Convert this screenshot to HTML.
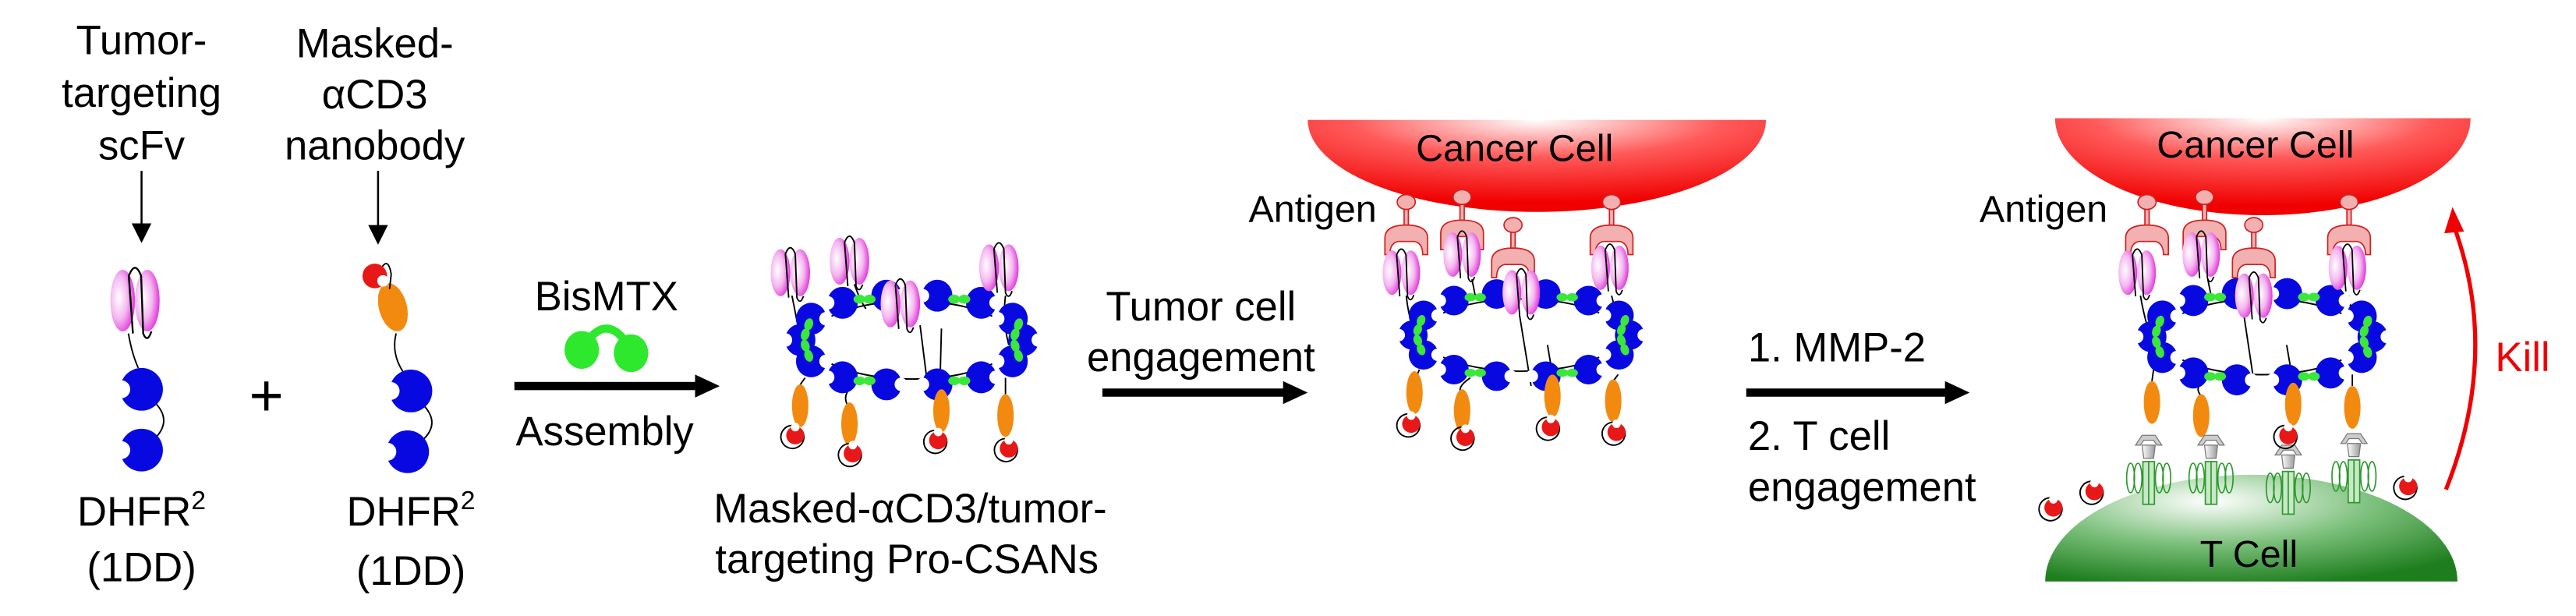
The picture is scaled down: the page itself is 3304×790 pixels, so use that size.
<!DOCTYPE html>
<html><head><meta charset="utf-8"><style>
html,body{margin:0;padding:0;background:#fff;}
svg{display:block;}
text{font-family:"Liberation Sans",Arial,sans-serif;fill:#000;}
</style></head><body>
<svg width="3304" height="790" viewBox="0 0 1568 375" xmlns="http://www.w3.org/2000/svg">
<defs>
<radialGradient id="pink" cx="0.35" cy="0.45" r="0.7"><stop offset="0" stop-color="#fff"/><stop offset="0.5" stop-color="#f4b8f0"/><stop offset="1" stop-color="#e020d8"/></radialGradient>
<radialGradient id="cg" cx="0.5" cy="0" r="0.9"><stop offset="0" stop-color="#fff"/><stop offset="0.45" stop-color="#ff5a5a"/><stop offset="1" stop-color="#f00000"/></radialGradient>
<radialGradient id="tg" cx="0.4" cy="0.25" r="0.8"><stop offset="0" stop-color="#fff"/><stop offset="0.5" stop-color="#7cc07c"/><stop offset="1" stop-color="#1e7e1e"/></radialGradient>
<linearGradient id="sil" x1="0" x2="1"><stop offset="0" stop-color="#fff"/><stop offset="1" stop-color="#999"/></linearGradient>
<g id="pm"><circle r="10" fill="#0808e0"/><circle cx="-9.5" r="4.2" fill="#fff"/></g>
<g id="sc"><ellipse cx="-6" cy="0" rx="6" ry="15" fill="url(#pink)"/><ellipse cx="6" cy="0" rx="6" ry="15" fill="url(#pink)"/><path d="M-1 16 L-3 -12 Q0 -20 3 -12 L4 16 Q6 21 8 15" fill="none" stroke="#000" stroke-width="0.9"/></g>
<g id="or"><ellipse rx="5" ry="13" fill="#f38a10"/></g>
<g id="rm"><path d="M4 -3 A7 7 0 1 1 -2 -6" fill="none" stroke="#000" stroke-width="0.9"/><circle r="5.5" fill="#e81818"/><circle cx="0" cy="-5" r="2.6" fill="#fff"/></g>
<g id="gl"><ellipse cx="-3" rx="3.5" ry="2.5" fill="#3ae83a"/><ellipse cx="3" rx="3.5" ry="2.5" fill="#3ae83a"/><rect x="-3" y="-0.8" width="6" height="1.6" fill="#3ae83a"/></g>
<g id="ring">
<ellipse rx="60" ry="22" fill="none" stroke="#000" stroke-width="0.9"/>
<use href="#pm" transform="translate(66,0) rotate(180) scale(0.9)"/>
<use href="#pm" transform="translate(59.5,12) scale(0.9)"/>
<use href="#pm" transform="translate(41,21) rotate(180) scale(0.9)"/>
<use href="#pm" transform="translate(15,25) scale(0.9)"/>
<use href="#pm" transform="translate(-15,25) rotate(180) scale(0.9)"/>
<use href="#pm" transform="translate(-41,21) scale(0.9)"/>
<use href="#pm" transform="translate(-59.5,12) rotate(180) scale(0.9)"/>
<use href="#pm" transform="translate(-66,0) scale(0.9)"/>
<use href="#pm" transform="translate(-59.5,-12) rotate(180) scale(0.9)"/>
<use href="#pm" transform="translate(-41,-21) scale(0.9)"/>
<use href="#pm" transform="translate(-15,-25) rotate(180) scale(0.9)"/>
<use href="#pm" transform="translate(15,-25) scale(0.9)"/>
<use href="#pm" transform="translate(41,-21) rotate(180) scale(0.9)"/>
<use href="#pm" transform="translate(59.5,-12) scale(0.9)"/>
<use href="#gl" transform="translate(62,6) rotate(70)"/>
<use href="#gl" transform="translate(28,23)"/>
<use href="#gl" transform="translate(-28,23)"/>
<use href="#gl" transform="translate(-62,6) rotate(70)"/>
<use href="#gl" transform="translate(-62,-6) rotate(-70)"/>
<use href="#gl" transform="translate(-28,-23)"/>
<use href="#gl" transform="translate(28,-23)"/>
<use href="#gl" transform="translate(62,-6) rotate(-70)"/>
</g>
<g id="cup"><rect x="-1.3" y="-18" width="2.6" height="14" fill="#f2b0b0" stroke="#d02020" stroke-width="0.8"/><ellipse cx="0" cy="-20" rx="5.5" ry="4.5" fill="#f2b0b0" stroke="#d02020" stroke-width="0.8"/><path d="M-13 12 L-13 2 Q-13 -6 0 -6 Q13 -6 13 2 L13 12 L10 12 Q10 5 5 4 L-5 4 Q-10 5 -10 12 Z" fill="#f2b0b0" stroke="#d02020" stroke-width="0.8"/></g>
<g id="tcr"><path d="M-8 -10 L-4 -16 L4 -16 L8 -10 L5 -10 L3 -13 L-3 -13 L-5 -10 Z" fill="#ccc" stroke="#777" stroke-width="0.6"/><path d="M-4 -10 L4 -10 L3 -2 L-3 -2 Z" fill="url(#sil)" stroke="#777" stroke-width="0.6"/>
<g fill="none" stroke="#2a9a2a" stroke-width="0.8"><ellipse cx="-11" cy="10" rx="2.4" ry="9"/><ellipse cx="-6.5" cy="10" rx="2.4" ry="9"/><ellipse cx="6.5" cy="10" rx="2.4" ry="9"/><ellipse cx="11" cy="10" rx="2.4" ry="9"/><rect x="-3.5" y="0" width="7" height="26" fill="#c8e8c8"/><line x1="0" y1="0" x2="0" y2="26"/></g></g>
</defs>

<!-- Left monomer -->
<text x="86" y="33" font-size="25" text-anchor="middle">Tumor-</text>
<text x="86" y="65" font-size="25" text-anchor="middle">targeting</text>
<text x="86" y="97" font-size="25" text-anchor="middle">scFv</text>
<line x1="86" y1="104" x2="86" y2="138" stroke="#000" stroke-width="1.2"/>
<polygon points="80,136 92,136 86,148" fill="#000"/>
<use href="#sc" transform="translate(82,183) scale(1.25)"/>
<path d="M78 203 Q80 215 84 224" fill="none" stroke="#000" stroke-width="0.9"/>
<path d="M95 246 Q104 256 95 266" fill="none" stroke="#000" stroke-width="0.9"/>
<use href="#pm" transform="translate(86,237) scale(1.3)"/>
<use href="#pm" transform="translate(86,274) scale(1.3)"/>
<text x="86" y="320" font-size="25" text-anchor="middle">DHFR<tspan font-size="16" dy="-10">2</tspan></text>
<text x="86" y="354" font-size="25" text-anchor="middle">(1DD)</text>

<text x="162" y="253" font-size="36" text-anchor="middle">+</text>

<!-- Masked monomer -->
<text x="228" y="35" font-size="25" text-anchor="middle">Masked-</text>
<text x="228" y="66" font-size="25" text-anchor="middle">αCD3</text>
<text x="228" y="97" font-size="25" text-anchor="middle">nanobody</text>
<line x1="230" y1="104" x2="230" y2="139" stroke="#000" stroke-width="1.2"/>
<polygon points="224,137 236,137 230,149" fill="#000"/>
<path d="M241 203 Q238 215 245 226" fill="none" stroke="#000" stroke-width="0.9"/>
<path d="M258 247 Q268 258 257 268" fill="none" stroke="#000" stroke-width="0.9"/>
<ellipse cx="239" cy="187" rx="8.5" ry="15" fill="#f38a10" transform="rotate(-15 239 187)"/>
<path d="M231 165 Q236 155 238 167 L237 176" fill="none" stroke="#000" stroke-width="0.9"/>
<circle cx="228" cy="168" r="7.5" fill="#e81818"/><circle cx="233" cy="171" r="3.5" fill="#fff"/>
<use href="#pm" transform="translate(250,238) scale(1.3)"/>
<use href="#pm" transform="translate(248,275) scale(1.3)"/>
<text x="250" y="320" font-size="25" text-anchor="middle">DHFR<tspan font-size="16" dy="-10">2</tspan></text>
<text x="250" y="356" font-size="25" text-anchor="middle">(1DD)</text>

<!-- Assembly arrow -->
<text x="369" y="189" font-size="25" text-anchor="middle">BisMTX</text>
<path d="M358 207 Q369 193 380 207" fill="none" stroke="#2ee82e" stroke-width="5"/>
<ellipse cx="354" cy="213" rx="10.5" ry="11.5" fill="#2ee82e"/>
<ellipse cx="384" cy="215" rx="10.5" ry="11.5" fill="#2ee82e"/>
<rect x="313" y="232.5" width="112" height="5" fill="#000"/>
<polygon points="423,228 438,235 423,242" fill="#000"/>
<text x="368" y="271" font-size="25" text-anchor="middle">Assembly</text>

<!-- Cluster 1 -->
<g stroke="#000" stroke-width="0.9" fill="none">
<path d="M482 180 Q486 200 490 222"/><path d="M520 173 Q523 182 527 188"/><path d="M560 198 L564 230"/><path d="M612 180 Q610 195 614 210"/>
<path d="M490 230 Q484 238 487 236"/><path d="M520 234 Q512 240 516 247"/><path d="M573 200 L572 238"/><path d="M612 230 L612 240"/>
</g>
<use href="#ring" transform="translate(555,207) scale(1.03,1.08)"/>
<use href="#sc" transform="translate(481,166) scale(1,0.95)"/>
<use href="#sc" transform="translate(517,159) scale(1,0.95)"/>
<use href="#sc" transform="translate(548,185) scale(1,0.95)"/>
<use href="#sc" transform="translate(608,163) scale(1,0.95)"/>
<use href="#or" transform="translate(487,247)"/><use href="#or" transform="translate(517,258)"/><use href="#or" transform="translate(573,250)"/><use href="#or" transform="translate(612,253)"/>
<use href="#rm" transform="translate(484,265)"/><use href="#rm" transform="translate(519,276)"/><use href="#rm" transform="translate(571,268)"/><use href="#rm" transform="translate(614,273)"/>
<text x="554" y="318" font-size="25" text-anchor="middle">Masked-αCD3/tumor-</text>
<text x="552" y="349" font-size="25" text-anchor="middle">targeting Pro-CSANs</text>

<!-- Arrow 2 -->
<text x="731" y="195" font-size="25" text-anchor="middle">Tumor cell</text>
<text x="731" y="226" font-size="25" text-anchor="middle">engagement</text>
<rect x="671" y="236.5" width="112" height="5" fill="#000"/>
<polygon points="781,232 796,239 781,246" fill="#000"/>

<!-- Scene 2 -->
<path d="M796 73 L1075 73 A139.5 56 0 0 1 796 73 Z" fill="url(#cg)"/>
<text x="922" y="98" font-size="23" text-anchor="middle">Cancer Cell</text>
<text x="799" y="135" font-size="23" text-anchor="middle">Antigen</text>
<g stroke="#000" stroke-width="0.9" fill="none">
<path d="M856 180 Q858 200 866 210"/><path d="M896 170 L898 180"/><path d="M925 192 L932 235"/><path d="M981 180 L985 195"/>
<path d="M864 225 L861 232"/><path d="M895 230 Q886 236 890 240"/><path d="M942 210 L945 228"/><path d="M985 228 L982 232"/>
</g>
<use href="#ring" transform="translate(926,204)"/>
<use href="#cup" transform="translate(856,143)"/>
<use href="#cup" transform="translate(890,140)"/>
<use href="#cup" transform="translate(981,143)"/>
<use href="#cup" transform="translate(921,157)"/>
<use href="#sc" transform="translate(853,166) scale(0.95,0.9)"/>
<use href="#sc" transform="translate(890,155) scale(0.95,0.9)"/>
<use href="#sc" transform="translate(980,163) scale(0.95,0.9)"/>
<use href="#sc" transform="translate(926,178) scale(0.95,0.9)"/>
<use href="#or" transform="translate(861,239)"/><use href="#or" transform="translate(890,250)"/><use href="#or" transform="translate(945,241)"/><use href="#or" transform="translate(982,244)"/>
<use href="#rm" transform="translate(859,258)"/><use href="#rm" transform="translate(892,266)"/><use href="#rm" transform="translate(944,260)"/><use href="#rm" transform="translate(984,263)"/>

<!-- Arrow 3 -->
<text x="1064" y="220" font-size="25">1. MMP-2</text>
<rect x="1063" y="236.5" width="122" height="5" fill="#000"/>
<polygon points="1184,232 1199,239 1184,246" fill="#000"/>
<text x="1064" y="274" font-size="25">2. T cell</text>
<text x="1064" y="305" font-size="25">engagement</text>

<!-- Scene 3 -->
<path d="M1251 72 L1504 72 A126.5 59 0 0 1 1251 72 Z" fill="url(#cg)"/>
<path d="M1245 354 L1496 354 A125.5 65 0 0 0 1245 354 Z" fill="url(#tg)"/>
<text x="1373" y="96" font-size="23" text-anchor="middle">Cancer Cell</text>
<text x="1369" y="345" font-size="23" text-anchor="middle">T Cell</text>
<text x="1244" y="135" font-size="23" text-anchor="middle">Antigen</text>
<g stroke="#000" stroke-width="0.9" fill="none">
<path d="M1303 180 Q1306 198 1312 212"/><path d="M1344 170 L1346 180"/><path d="M1366 192 L1372 232"/><path d="M1430 180 L1432 195"/>
<path d="M1311 225 L1310 232"/><path d="M1343 230 Q1335 236 1340 241"/><path d="M1392 210 L1396 233"/><path d="M1432 228 L1432 235"/>
</g>
<use href="#ring" transform="translate(1377,205) scale(1.02,1.05)"/>
<use href="#cup" transform="translate(1307,143)"/>
<use href="#cup" transform="translate(1342,140)"/>
<use href="#cup" transform="translate(1430,143)"/>
<use href="#cup" transform="translate(1372,157)"/>
<use href="#sc" transform="translate(1301,166) scale(0.95,0.9)"/>
<use href="#sc" transform="translate(1340,155) scale(0.95,0.9)"/>
<use href="#sc" transform="translate(1429,163) scale(0.95,0.9)"/>
<use href="#sc" transform="translate(1372,180) scale(0.95,0.9)"/>
<use href="#or" transform="translate(1310,245)"/><use href="#or" transform="translate(1340,253)"/><use href="#or" transform="translate(1396,246)"/><use href="#or" transform="translate(1432,248)"/>
<use href="#tcr" transform="translate(1308,281)"/>
<use href="#tcr" transform="translate(1346,281)"/>
<use href="#tcr" transform="translate(1393,287)"/>
<use href="#tcr" transform="translate(1433,280)"/>
<use href="#rm" transform="translate(1393,265)"/>
<use href="#rm" transform="translate(1250,309)"/>
<use href="#rm" transform="translate(1275,299)"/>
<use href="#rm" transform="translate(1466,296)"/>
<path d="M1489 298 Q1522 215 1494 138" fill="none" stroke="#f00000" stroke-width="2.5"/>
<polygon points="1488,142 1493,126 1500,141" fill="#f00000"/>
<text x="1519" y="226" font-size="25" style="fill:#f00000">Kill</text>
</svg>
</body></html>
